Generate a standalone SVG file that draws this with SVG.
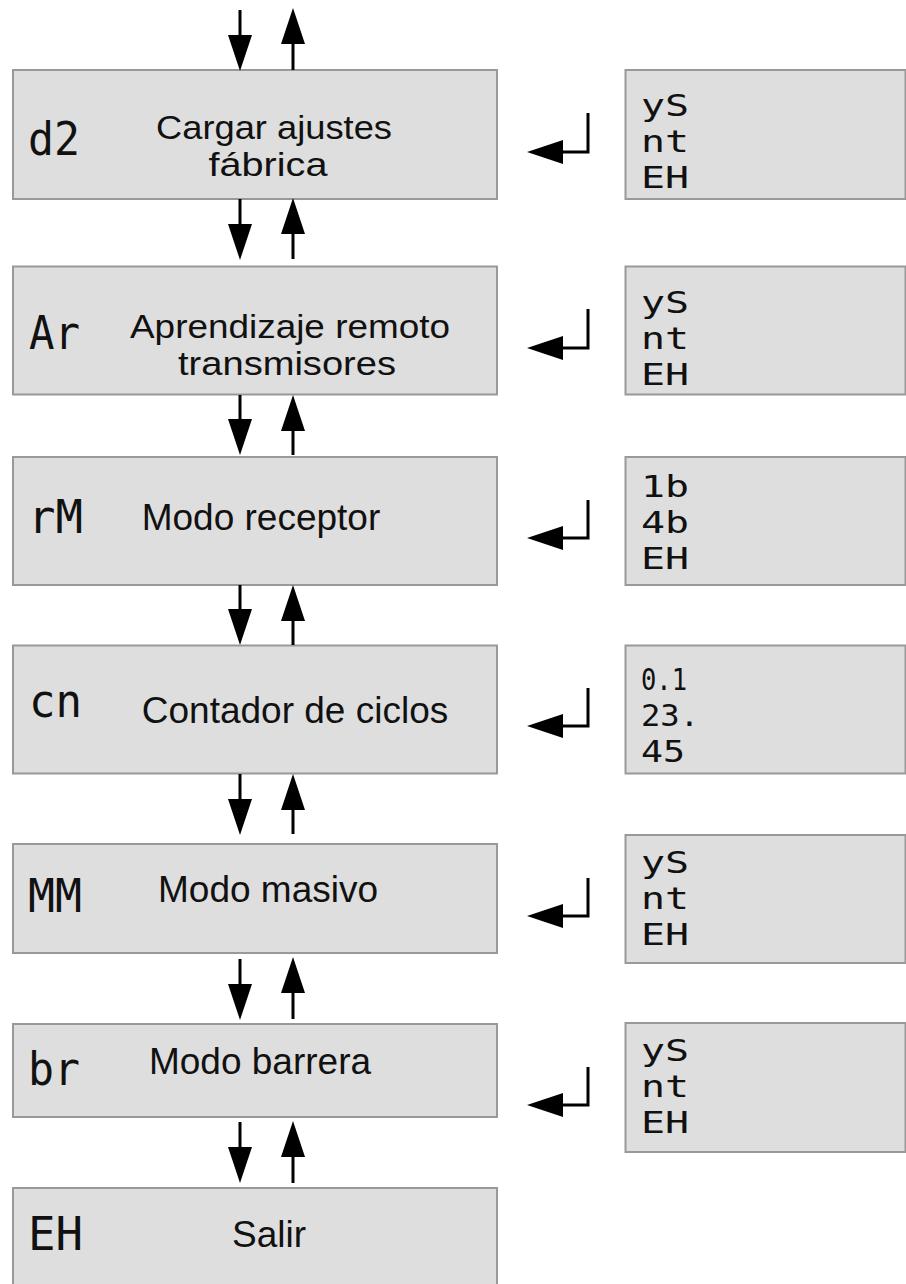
<svg xmlns="http://www.w3.org/2000/svg" width="906" height="1284" viewBox="0 0 906 1284">
<style>
.box{fill:#dedede;stroke:#999;stroke-width:2}
.lbl{font-family:"Liberation Sans",Arial,sans-serif;font-size:37px;fill:#111;text-anchor:middle}
.lbl2{font-family:"Liberation Sans",Arial,sans-serif;font-size:33px;fill:#111;text-anchor:middle}
.seg{font-family:"DejaVu Sans Mono","Liberation Mono",monospace;font-size:46px;fill:#111}
.opt{font-family:"DejaVu Sans Mono","Liberation Mono",monospace;font-size:31px;fill:#111}
.conn line,.conn polyline{stroke:#000;stroke-width:3;fill:none;marker-end:url(#ah)}
</style>
<defs>
<marker id="ah" markerUnits="userSpaceOnUse" markerWidth="36" markerHeight="26" refX="16" refY="13" orient="auto">
<path d="M0,1 L36,13 L0,25 z" fill="#000"/>
</marker>
</defs>
<rect width="906" height="1284" fill="#fff"/>

<g id="n1">
<rect class="box" x="13" y="70" width="484" height="129"/>
<text class="seg" x="28" y="155" textLength="52" lengthAdjust="spacingAndGlyphs">d2</text>
<text class="lbl2" x="274" y="139" textLength="236" lengthAdjust="spacingAndGlyphs">Cargar ajustes</text>
<text class="lbl2" x="268" y="176" textLength="119" lengthAdjust="spacingAndGlyphs">fábrica</text>
</g>
<g id="n2">
<rect class="box" x="13" y="266.5" width="484" height="128"/>
<text class="seg" x="29" y="349" textLength="51" lengthAdjust="spacingAndGlyphs">Ar</text>
<text class="lbl2" x="290" y="338" textLength="320" lengthAdjust="spacingAndGlyphs">Aprendizaje remoto</text>
<text class="lbl2" x="287" y="375" textLength="218" lengthAdjust="spacingAndGlyphs">transmisores</text>
</g>
<g id="n3">
<rect class="box" x="13" y="457" width="484" height="128"/>
<text class="seg" x="28" y="533" textLength="55" lengthAdjust="spacingAndGlyphs">rM</text>
<text class="lbl" x="261" y="530">Modo receptor</text>
</g>
<g id="n4">
<rect class="box" x="13" y="645.5" width="484" height="128"/>
<text class="seg" x="29" y="717" textLength="53" lengthAdjust="spacingAndGlyphs">cn</text>
<text class="lbl" x="295" y="723">Contador de ciclos</text>
</g>
<g id="n5">
<rect class="box" x="13" y="844" width="484" height="109"/>
<text class="seg" x="28" y="912" textLength="54" lengthAdjust="spacingAndGlyphs">MM</text>
<text class="lbl" x="268" y="902">Modo masivo</text>
</g>
<g id="n6">
<rect class="box" x="13" y="1024" width="484" height="93"/>
<text class="seg" x="28" y="1085" textLength="52" lengthAdjust="spacingAndGlyphs">br</text>
<text class="lbl" x="260" y="1074">Modo barrera</text>
</g>
<g id="n7">
<rect class="box" x="13" y="1188" width="484" height="110"/>
<text class="seg" x="28" y="1250" textLength="55" lengthAdjust="spacingAndGlyphs">EH</text>
<text class="lbl" x="269" y="1247">Salir</text>
</g>

<g id="p1">
<rect class="box" x="625.5" y="70" width="280" height="129"/>
<text class="opt" x="641" y="116" textLength="48" lengthAdjust="spacingAndGlyphs">yS</text>
<text class="opt" x="641" y="152" textLength="48" lengthAdjust="spacingAndGlyphs">nt</text>
<text class="opt" x="641" y="188" textLength="48" lengthAdjust="spacingAndGlyphs">EH</text>
</g>
<g id="p2">
<rect class="box" x="625.5" y="266.5" width="280" height="128"/>
<text class="opt" x="641" y="313" textLength="48" lengthAdjust="spacingAndGlyphs">yS</text>
<text class="opt" x="641" y="349" textLength="48" lengthAdjust="spacingAndGlyphs">nt</text>
<text class="opt" x="641" y="385" textLength="48" lengthAdjust="spacingAndGlyphs">EH</text>
</g>
<g id="p3">
<rect class="box" x="625.5" y="457" width="280" height="128"/>
<text class="opt" x="641" y="497" textLength="48" lengthAdjust="spacingAndGlyphs">1b</text>
<text class="opt" x="641" y="533" textLength="48" lengthAdjust="spacingAndGlyphs">4b</text>
<text class="opt" x="641" y="569" textLength="48" lengthAdjust="spacingAndGlyphs">EH</text>
</g>
<g id="p4">
<rect class="box" x="625.5" y="645.5" width="280" height="128"/>
<text class="opt" x="641" y="690" textLength="46" lengthAdjust="spacingAndGlyphs">0.1</text>
<text class="opt" x="641" y="726" textLength="58" lengthAdjust="spacingAndGlyphs">23.</text>
<text class="opt" x="641" y="762" textLength="44" lengthAdjust="spacingAndGlyphs">45</text>
</g>
<g id="p5">
<rect class="box" x="625.5" y="835" width="280" height="128"/>
<text class="opt" x="641" y="873" textLength="48" lengthAdjust="spacingAndGlyphs">yS</text>
<text class="opt" x="641" y="909" textLength="48" lengthAdjust="spacingAndGlyphs">nt</text>
<text class="opt" x="641" y="945" textLength="48" lengthAdjust="spacingAndGlyphs">EH</text>
</g>
<g id="p6">
<rect class="box" x="625.5" y="1023" width="280" height="129"/>
<text class="opt" x="641" y="1061" textLength="48" lengthAdjust="spacingAndGlyphs">yS</text>
<text class="opt" x="641" y="1097" textLength="48" lengthAdjust="spacingAndGlyphs">nt</text>
<text class="opt" x="641" y="1133" textLength="48" lengthAdjust="spacingAndGlyphs">EH</text>
</g>

<g id="connectors" class="conn">
<line x1="240" y1="10" x2="240" y2="51"/>
<line x1="293" y1="70" x2="293" y2="28"/>
<line x1="240" y1="199" x2="240" y2="240"/>
<line x1="293" y1="259" x2="293" y2="218"/>
<line x1="240" y1="395" x2="240" y2="435"/>
<line x1="293" y1="455" x2="293" y2="415"/>
<line x1="240" y1="585" x2="240" y2="625"/>
<line x1="293" y1="645" x2="293" y2="605"/>
<line x1="240" y1="774" x2="240" y2="815"/>
<line x1="293" y1="834" x2="293" y2="794"/>
<line x1="240" y1="959" x2="240" y2="1000"/>
<line x1="293" y1="1019" x2="293" y2="977"/>
<line x1="240" y1="1122" x2="240" y2="1163"/>
<line x1="293" y1="1183" x2="293" y2="1141"/>
<polyline points="588,113 588,152 547,152"/>
<polyline points="588,309 588,348 547,348"/>
<polyline points="588,500 588,538 547,538"/>
<polyline points="588,688 588,726 547,726"/>
<polyline points="588,878 588,916 547,916"/>
<polyline points="588,1067 588,1105 547,1105"/>
</g>
</svg>
